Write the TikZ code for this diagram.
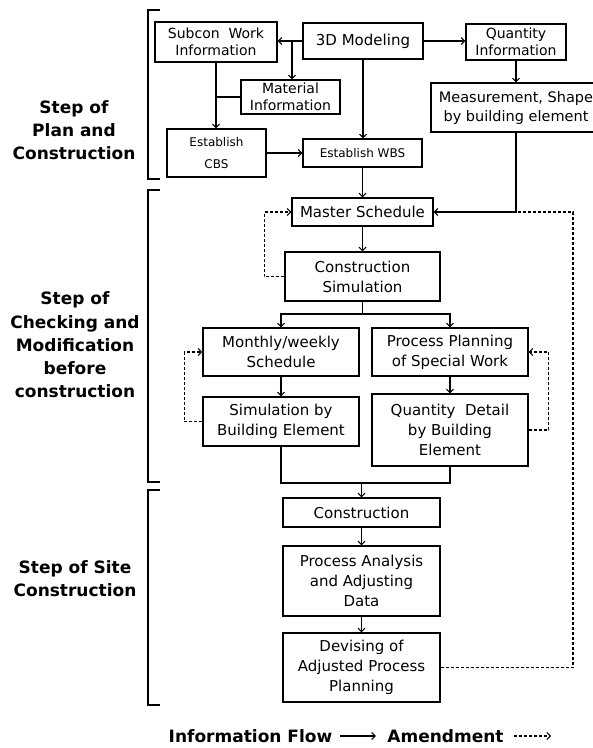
\documentclass[tikz,border=0pt]{standalone}
\usepackage{fontspec}
\setmainfont{DejaVu Sans}
\usetikzlibrary{arrows.meta}
\newcommand{\boxfont}{\fontsize{15}{20}\selectfont}
\newcommand{\smallboxfont}{\fontsize{14}{17}\selectfont}
\newcommand{\narrowfont}{\fontsize{12}{22}\selectfont}
\newcommand{\stepfont}{\fontsize{17}{23.3}\selectfont\bfseries}

\begin{document}
\begin{tikzpicture}[->,>={Straight Barb[length=3.5pt,width=7pt]},x=1pt,y=-1pt,line width=1.1pt,
  main node/.style={rectangle,draw,align=center,inner sep=0pt,font=\boxfont},
  step label/.style={align=center,inner sep=0pt,font=\stepfont},
  amend/.style={densely dashed}]

  \useasboundingbox (0,0) rectangle (593,748);

  % step of plan and construction
  \node[main node,minimum width=120pt,minimum height=36pt] (1) at (363,41) {3D Modeling};
  \node[main node,font=\smallboxfont,minimum width=122pt,minimum height=40pt] (2) at (216,42) {Subcon~~Work\\Information};
  \node[main node,font=\smallboxfont,minimum width=99pt,minimum height=34pt] (3) at (290.5,97) {Material\\Information};
  \node[main node,font=\smallboxfont,minimum width=100pt,minimum height=36pt] (4) at (516,42) {Quantity\\Information};
  \node[main node,font=\fontsize{14.5}{19}\selectfont,minimum width=170pt,minimum height=49pt] (5) at (516,107.5) {Measurement, Shape\\by building element};
  \node[main node,font=\narrowfont,minimum width=99pt,minimum height=48pt] (6) at (216.5,153) {Establish\\CBS};
  \node[main node,font=\narrowfont,minimum width=119pt,minimum height=28pt] (7) at (362.5,153) {Establish WBS};

  % step of checking and modification
  \node[main node,minimum width=141pt,minimum height=28pt] (8) at (362.5,212) {Master Schedule};
  \node[main node,minimum width=155pt,minimum height=49pt] (9) at (362.5,276.5) {Construction\\Simulation};
  \node[main node,minimum width=156pt,minimum height=48pt] (10) at (281,352) {Monthly/weekly\\Schedule};
  \node[main node,minimum width=156pt,minimum height=48pt] (11) at (450,352) {Process Planning\\of Special Work};
  \node[main node,minimum width=156pt,minimum height=49pt] (12) at (281,421.5) {Simulation by\\Building Element};
  \node[main node,minimum width=156pt,minimum height=72pt] (13) at (450,430) {Quantity~~Detail\\by Building\\Element};

  % step of site construction
  \node[main node,minimum width=157pt,minimum height=29pt] (14) at (361.5,512.5) {Construction};
  \node[main node,minimum width=157pt,minimum height=70pt] (15) at (361.5,581) {Process Analysis\\and Adjusting\\Data};
  \node[main node,minimum width=157pt,minimum height=69pt] (16) at (361.5,667.5) {Devising of\\Adjusted Process\\Planning};

  \node[step label] (p1) at (74,130) {Step of\\Plan and\\Construction};
  \node[step label] (p2) at (75,345) {Step of\\Checking and\\Modification\\before\\construction};
  \node[step label] (p3) at (75,579) {Step of Site\\Construction};

  \draw[-] (160,10) -- (148,10) -- (148,179) -- (160,179);
  \draw[-] (160,190) -- (148,190) -- (148,482) -- (160,482);
  \draw[-] (160,490) -- (148,490) -- (148,705) -- (160,705);

  \coordinate (a) at (292,41);
  \coordinate (m) at (516,212);
  \coordinate (r) at (573,212);
  \coordinate (s) at (362.5,314);
  \coordinate (j) at (361.5,483);

  \draw (1.west) -- (1.west -| 2.east);
  \draw (a) -- (a |- 3.north);
  \draw[-] (3.west) -- (3.west -| 2.south);
  \draw (2.south) -- (2.south |- 6.north);
  \draw (1.south) -- (1.south |- 7.north);
  \draw (1.east) -- (1.east -| 4.west);
  \draw (4.south) -- (4.south |- 5.north);
  \draw (5.south) |- (8.east);
  \draw[-] (9) -- (s);
  \draw (s) -| (10.north);
  \draw (s) -| (11.north);
  \draw[-] (12.south) |- (j);
  \draw[-] (13.south) |- (j);
  \draw (j) -- (14.north);

  \path
    (6.east) edge (6.east -| 7.west)
    (7) edge (8)
    (8) edge (9)
    (10) edge (12)
    (11.south) edge (11.south |- 13.north)
    (14) edge (15)
    (15) edge (16);

  % amendment
  \draw[amend] (9.west) -- ++(-20,0) |- (8.west);
  \draw[amend] (12.west) -- ++(-18,0) |- (10.west);
  \draw[amend] (13.east) -- ++(20,0) |- (11.east);
  \draw[amend,-] (16.east) -| (r) -- (m);

  \node[step label] (flow) at (250.5,736) {Information Flow};
  \node[step label] (amendment) at (445.5,736) {Amendment};
  \draw ([xshift=7pt]flow.east) -- ([xshift=-11pt]amendment.west);
  \draw[amend] ([xshift=10pt]amendment.east) -- ++(37,0);
\end{tikzpicture}
\end{document}
